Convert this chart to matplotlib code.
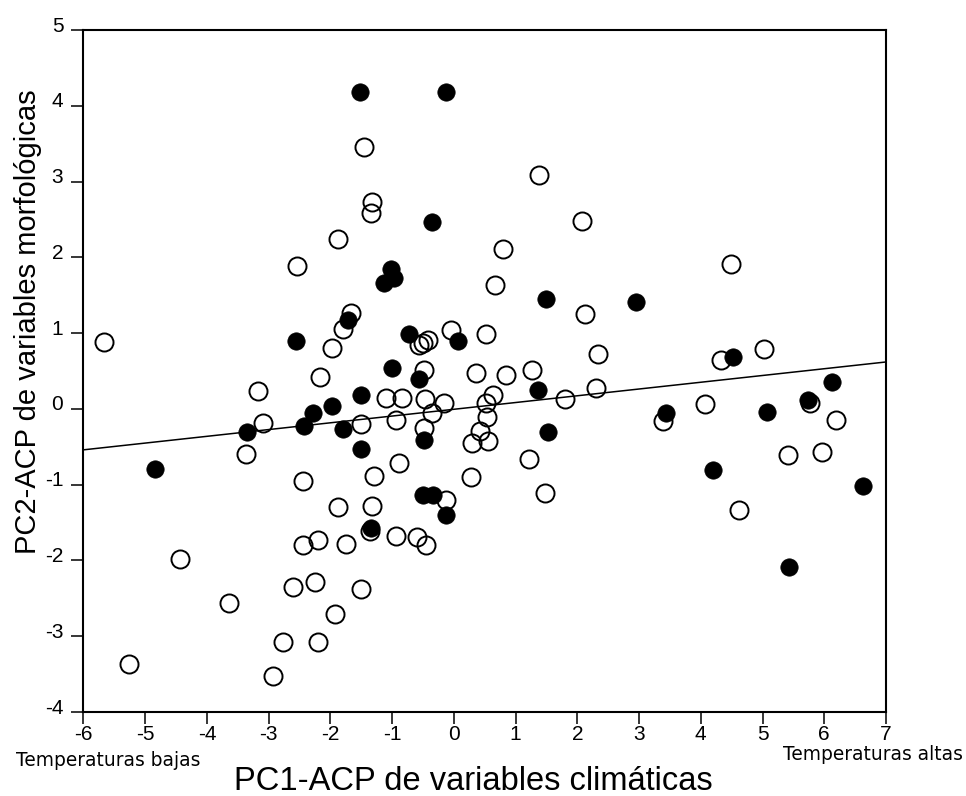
"""Dispersión PC1 (clima) vs PC2 (morfología) con recta de regresión."""
import matplotlib
matplotlib.use("Agg")
import matplotlib.pyplot as plt
import matplotlib.transforms as mtransforms
import numpy as np

# puntos rellenos
filled_x = [-1.52, -0.13, -0.36, -1.02, -0.965, -1.13, -1.71, -2.55, -0.73, 0.06,
            1.49, 2.945, -1.00, -0.56, -1.50, -1.98, -2.28, -2.42, -1.80, -1.50,
            -0.48, 1.37, 1.52, -4.84, -0.50, -0.33, -0.12, -1.35, -3.35, 3.44,
            4.52, 5.07, 4.19, 5.73, 6.13, 6.63, 5.43]
filled_y = [4.18, 4.18, 2.46, 1.85, 1.73, 1.66, 1.17, 0.90, 0.99, 0.90,
            1.45, 1.41, 0.535, 0.39, 0.18, 0.04, -0.06, -0.23, -0.27, -0.53,
            -0.41, 0.25, -0.30, -0.79, -1.14, -1.14, -1.40, -1.57, -0.31, -0.06,
            0.69, -0.04, -0.80, 0.12, 0.36, -1.02, -2.08]

# puntos vacíos
open_x = [-1.46, 1.38, -1.33, -1.34, 2.07, -1.88, 0.79, 0.67, -2.54, -1.66,
          -1.80, 2.12, -0.04, 0.525, -1.97, -0.565, -0.50, -0.415, 2.33, -2.17,
          -0.485, 0.36, 0.845, 1.26, 0.64, 2.30, -1.10, -0.84, -0.46, -0.16,
          -0.355, 0.52, 1.805, -1.50, -0.94, 0.54, -0.48, 0.42, 0.29, 0.56,
          -0.89, 1.21, -1.30, 0.28, -2.44, 1.48, -0.12, -1.88, -1.32, -1.36,
          -0.94, -0.59, -0.45, -2.20, -1.75, -2.44, -5.67, -3.17, -3.09, -3.36,
          -4.43, -2.60, -2.25, -1.50, -3.64, -1.93, -2.76, -2.20, -5.26, -2.93,
          4.49, 4.32, 5.02, 3.39, 4.07, 5.77, 6.19, 5.42, 5.97, 4.62]
open_y = [3.45, 3.09, 2.73, 2.59, 2.48, 2.24, 2.11, 1.64, 1.89, 1.26,
          1.06, 1.25, 1.04, 0.99, 0.80, 0.84, 0.87, 0.91, 0.73, 0.42,
          0.52, 0.47, 0.45, 0.52, 0.19, 0.27, 0.15, 0.15, 0.135, 0.08,
          -0.06, 0.08, 0.13, -0.20, -0.14, -0.11, -0.25, -0.29, -0.45, -0.42,
          -0.71, -0.66, -0.89, -0.90, -0.95, -1.11, -1.20, -1.30, -1.28, -1.61,
          -1.68, -1.69, -1.79, -1.73, -1.78, -1.80, 0.88, 0.23, -0.19, -0.60,
          -1.98, -2.35, -2.29, -2.38, -2.56, -2.70, -3.07, -3.08, -3.36, -3.53,
          1.91, 0.65, 0.79, -0.16, 0.065, 0.074, -0.14, -0.61, -0.565, -1.34]

# recta de regresión: y = a + b x
reg_a = -0.005
reg_b = 0.0892

x_ticks = list(range(-6, 8))
y_ticks = list(range(-4, 6))

plt.rcParams["font.family"] = ["Liberation Sans", "DejaVu Sans"]
plt.rcParams["axes.unicode_minus"] = False

fig = plt.figure(figsize=(9.66, 7.96), dpi=100)
ax = fig.add_axes([0.0864, 0.1055, 0.9172 - 0.0864, 0.9623 - 0.1055])

xs = np.array([-6, 7])
ax.plot(xs, reg_a + reg_b * xs, color="black", lw=1.1, zorder=1)

ax.plot(open_x, open_y, "o", ms=13, mfc="none", mec="black", mew=1.4, zorder=2)
ax.plot(filled_x, filled_y, "o", ms=12.5, mfc="black", mec="black", mew=0.5, zorder=3)

ax.set_xlim(-6, 7)
ax.set_ylim(-4, 5)
ax.set_xticks(x_ticks)
ax.set_yticks(y_ticks)
ax.tick_params(axis="both", direction="out", length=8.5, width=1.1, labelsize=15)
ax.tick_params(axis="x", pad=1)
ax.tick_params(axis="y", pad=6)
for s in ax.spines.values():
    s.set_linewidth(1.5)

# etiquetas del eje y algo por encima de su marca
shift = mtransforms.ScaledTranslation(0, 6 / 100, fig.dpi_scale_trans)
for lab in ax.get_yticklabels():
    lab.set_transform(lab.get_transform() + shift)

fig.text(473.5 / 966, 1 - 782 / 796, "PC1-ACP de variables climáticas", fontsize=23.5,
         ha="center", va="center")
fig.text(28 / 966, 1 - 322 / 796, "PC2-ACP de variables morfológicas", fontsize=21,
         ha="center", va="center", rotation=90)
fig.text(16 / 966, 1 - 761 / 796, "Temperaturas bajas", fontsize=13.4,
         family="DejaVu Sans", ha="left", va="center")
fig.text(963 / 966, 1 - 755 / 796, "Temperaturas altas", fontsize=13.4,
         family="DejaVu Sans", ha="right", va="center")

fig.savefig("out.png", dpi=100)
